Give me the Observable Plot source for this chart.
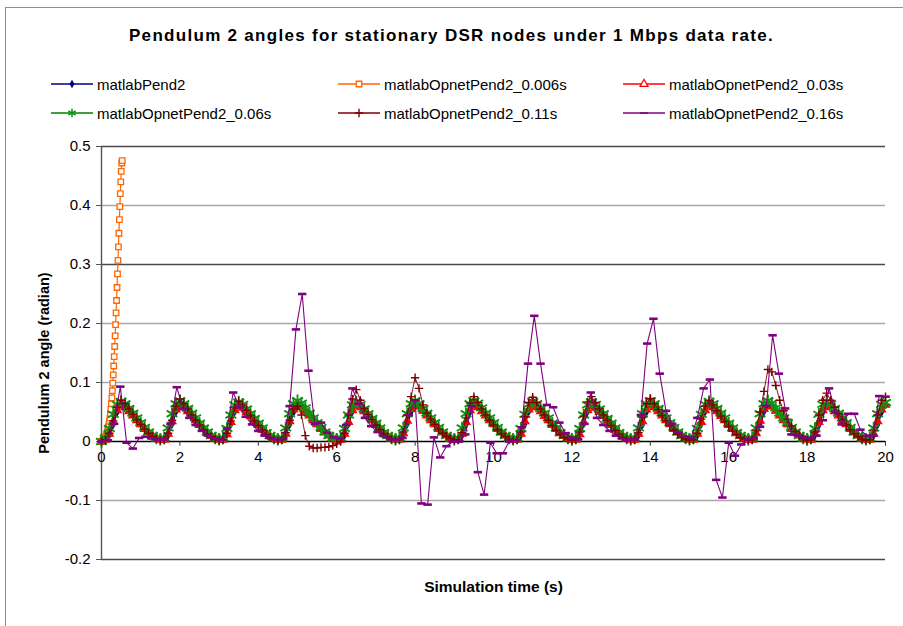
<!DOCTYPE html>
<html>
<head>
<meta charset="utf-8">
<script src="https://cdn.jsdelivr.net/npm/d3@7"></script>
<script src="https://cdn.jsdelivr.net/npm/@observablehq/plot@0.6"></script>
<style>
  html, body { margin: 0; padding: 0; }
  body {
    width: 903px; height: 626px; overflow: hidden; position: relative;
    background: #fff; font-family: "Liberation Sans", Arial, sans-serif; color: #000;
  }
  #frame { position: absolute; left: 5px; top: 7px; width: 1000px; height: 1000px; border: 1.5px solid #8f8f8f; }
  #title { position: absolute; left: 0; width: 903px; top: 26px; line-height: 20px;
           text-align: center; font-weight: bold; font-size: 17px; letter-spacing: 1.3px; }
  .legend-item { position: absolute; height: 16px; display: flex; align-items: center;
                 font-size: 15px; white-space: nowrap; }
  .legend-item span { margin-left: 4px; }
  #chart { position: absolute; left: 0; top: 125px; }
</style>
</head>
<body>
<div id="frame"></div>
<div id="title">Pendulum 2 angles for stationary DSR nodes under 1 Mbps data rate.</div>
<div id="legend"></div>
<div id="chart"></div>
<script>
// Series names as shown in the legend
const seriesNames = [
  "matlabPend2",
  "matlabOpnetPend2_0.006s",
  "matlabOpnetPend2_0.03s",
  "matlabOpnetPend2_0.06s",
  "matlabOpnetPend2_0.11s",
  "matlabOpnetPend2_0.16s"
];

// Pendulum 2 angle (radian), sampled every 0.1 s from 0 to 20 s
const matlabPend2 = [
  0,
  0.002,0.010,0.028,0.049,0.062,0.060,0.054,0.047,0.040,0.032,0.024,0.017,0.011,0.006,0.003,
  0.002,0.010,0.029,0.050,0.062,0.060,0.054,0.047,0.039,0.031,0.024,0.017,0.011,0.006,0.003,
  0.002,0.011,0.029,0.050,0.061,0.059,0.053,0.046,0.039,0.031,0.023,0.016,0.010,0.006,0.003,
  0.002,0.010,0.028,0.049,0.062,0.060,0.054,0.047,0.040,0.032,0.024,0.017,0.011,0.006,0.003,
  0.002,0.010,0.029,0.050,0.062,0.060,0.053,0.046,0.039,0.031,0.024,0.017,0.011,0.006,0.003,
  0.002,0.011,0.029,0.050,0.061,0.059,0.053,0.046,0.039,0.031,0.023,0.016,0.010,0.006,0.003,
  0.002,0.010,0.028,0.049,0.062,0.060,0.054,0.047,0.040,0.032,0.024,0.017,0.011,0.006,0.003,
  0.002,0.010,0.029,0.050,0.062,0.060,0.054,0.047,0.039,0.031,0.024,0.017,0.011,0.006,0.003,
  0.002,0.011,0.029,0.050,0.061,0.059,0.053,0.046,0.039,0.031,0.023,0.016,0.010,0.006,0.003,
  0.002,0.010,0.028,0.049,0.062,0.060,0.054,0.047,0.040,0.032,0.024,0.017,0.011,0.006,0.003,
  0.002,0.010,0.029,0.050,0.062,0.060,0.053,0.046,0.039,0.031,0.024,0.017,0.011,0.006,0.003,
  0.002,0.011,0.029,0.050,0.061,0.059,0.053,0.046,0.039,0.031,0.023,0.016,0.010,0.006,0.003,
  0.002,0.010,0.028,0.049,0.062,0.060,0.054,0.047,0.040,0.032,0.024,0.017,0.011,0.006,0.003,
  0.002,0.010,0.028,0.049,0.062
];

// OPNET co-simulation, 0.006 s delay: sampled every 0.012 s until it leaves the range
const opnetPend2_0006 = [
  0,0,0.001,0.001,0.002,0.003,0.004,0.005,0.006,0.008,0.010,0.012,0.015,0.018,0.021,
  0.025,0.029,0.034,0.040,0.047,0.055,0.064,0.074,0.086,0.099,0.113,0.128,0.144,0.161,0.179,
  0.198,0.218,0.239,0.261,0.284,0.307,0.330,0.353,0.376,0.398,0.420,0.440,0.458,0.472,0.476
];

// OPNET co-simulation, 0.03 s delay: every 0.1 s
const opnetPend2_003 = [
  0,
  0.003,0.013,0.033,0.053,0.061,0.058,0.051,0.044,0.036,0.029,0.021,0.015,0.010,0.005,0.003,
  0.003,0.013,0.034,0.054,0.062,0.058,0.051,0.043,0.036,0.028,0.021,0.014,0.009,0.005,0.003,
  0.003,0.012,0.033,0.053,0.060,0.057,0.050,0.043,0.035,0.028,0.020,0.014,0.009,0.005,0.003,
  0.003,0.013,0.034,0.054,0.062,0.058,0.051,0.044,0.036,0.029,0.021,0.015,0.010,0.005,0.003,
  0.003,0.013,0.033,0.053,0.061,0.058,0.051,0.043,0.036,0.028,0.021,0.014,0.009,0.005,0.003,
  0.003,0.014,0.035,0.055,0.063,0.059,0.052,0.044,0.036,0.029,0.021,0.015,0.010,0.005,0.003,
  0.003,0.013,0.033,0.053,0.061,0.058,0.051,0.044,0.036,0.029,0.021,0.015,0.010,0.005,0.003,
  0.003,0.013,0.034,0.054,0.062,0.058,0.051,0.043,0.036,0.028,0.021,0.014,0.009,0.005,0.003,
  0.003,0.012,0.033,0.053,0.060,0.057,0.050,0.043,0.035,0.028,0.020,0.014,0.009,0.005,0.003,
  0.003,0.013,0.034,0.054,0.062,0.058,0.051,0.044,0.036,0.029,0.021,0.015,0.010,0.005,0.003,
  0.003,0.013,0.033,0.053,0.061,0.058,0.051,0.043,0.036,0.028,0.021,0.014,0.009,0.005,0.003,
  0.003,0.014,0.035,0.055,0.063,0.059,0.052,0.044,0.036,0.029,0.021,0.015,0.010,0.005,0.003,
  0.003,0.013,0.033,0.053,0.061,0.058,0.051,0.044,0.036,0.029,0.021,0.015,0.010,0.005,0.003,
  0.003,0.013,0.034,0.054,0.062
];

// OPNET co-simulation, 0.06 s delay: every 0.1 s
const opnetPend2_006 = [
  0,
  0.006,0.022,0.046,0.063,0.068,0.064,0.056,0.048,0.040,0.032,0.024,0.016,0.010,0.006,0.004,
  0.006,0.023,0.047,0.064,0.069,0.064,0.056,0.048,0.040,0.031,0.023,0.016,0.010,0.006,0.004,
  0.006,0.022,0.045,0.062,0.067,0.063,0.055,0.047,0.039,0.031,0.023,0.015,0.010,0.006,0.004,
  0.006,0.023,0.047,0.064,0.069,0.065,0.057,0.048,0.040,0.032,0.024,0.016,0.010,0.006,0.004,
  0.006,0.022,0.045,0.062,0.067,0.063,0.055,0.047,0.039,0.031,0.023,0.015,0.010,0.006,0.004,
  0.006,0.023,0.047,0.064,0.069,0.064,0.056,0.048,0.040,0.032,0.024,0.016,0.010,0.006,0.004,
  0.006,0.023,0.047,0.064,0.069,0.065,0.057,0.048,0.040,0.032,0.024,0.016,0.010,0.006,0.004,
  0.006,0.022,0.046,0.063,0.068,0.064,0.056,0.048,0.040,0.031,0.023,0.015,0.010,0.006,0.004,
  0.006,0.022,0.045,0.062,0.067,0.063,0.055,0.047,0.039,0.031,0.023,0.015,0.010,0.006,0.004,
  0.006,0.023,0.047,0.064,0.069,0.064,0.056,0.048,0.040,0.032,0.024,0.016,0.010,0.006,0.004,
  0.006,0.022,0.046,0.063,0.068,0.064,0.056,0.048,0.040,0.031,0.023,0.015,0.010,0.006,0.004,
  0.006,0.023,0.047,0.064,0.069,0.065,0.057,0.048,0.040,0.032,0.024,0.016,0.010,0.006,0.004,
  0.006,0.022,0.046,0.063,0.068,0.064,0.056,0.048,0.040,0.032,0.024,0.016,0.010,0.006,0.004,
  0.006,0.023,0.047,0.063,0.066
];

// OPNET co-simulation, 0.11 s delay: every 0.1 s
const opnetPend2_011 = [
  0,
  0.003,0.014,0.035,0.058,0.070,0.064,0.055,0.046,0.037,0.029,0.021,0.014,0.009,0.005,0.002,
  0.003,0.014,0.036,0.060,0.072,0.064,0.055,0.045,0.036,0.028,0.020,0.013,0.008,0.004,0.002,
  0.003,0.014,0.035,0.057,0.068,0.062,0.053,0.044,0.035,0.027,0.019,0.012,0.007,0.004,0.002,
  0.003,0.015,0.036,0.055,0.060,0.045,0.010,-0.008,-0.011,-0.011,-0.010,-0.010,-0.009,-0.007,-0.004,
  0.000,0.014,0.045,0.072,0.088,0.070,0.056,0.046,0.037,0.028,0.020,0.013,0.008,0.004,0.002,
  0.003,0.016,0.045,0.076,0.108,0.090,0.062,0.048,0.038,0.029,0.021,0.014,0.009,0.005,0.002,
  0.003,0.015,0.040,0.065,0.076,0.066,0.055,0.045,0.036,0.028,0.020,0.013,0.008,0.004,0.002,
  0.003,0.016,0.042,0.066,0.075,0.066,0.055,0.045,0.036,0.027,0.019,0.012,0.007,0.004,0.002,
  0.003,0.016,0.043,0.067,0.076,0.066,0.055,0.045,0.036,0.027,0.019,0.012,0.007,0.004,0.002,
  0.003,0.015,0.041,0.064,0.073,0.064,0.054,0.044,0.035,0.027,0.019,0.012,0.007,0.004,0.002,
  0.003,0.014,0.038,0.060,0.069,0.062,0.052,0.043,0.034,0.026,0.018,0.012,0.007,0.004,0.002,
  0.003,0.018,0.050,0.085,0.122,0.118,0.095,0.070,0.052,0.038,0.026,0.017,0.010,0.005,0.002,
  0.003,0.016,0.045,0.070,0.082,0.070,0.058,0.047,0.037,0.028,0.020,0.013,0.008,0.004,0.002,
  0.003,0.018,0.045,0.070,0.076
];

// OPNET co-simulation, 0.16 s delay: every 0.16 s
const opnetPend2_016 = [
  0.000,0.002,0.030,0.093,-0.002,-0.012,0.006,0.008,0.005,0.003,
  0.004,0.030,0.092,0.055,0.040,0.028,0.018,0.010,0.005,0.003,
  0.022,0.083,0.058,0.042,0.029,0.018,0.010,0.005,0.003,0.005,
  0.060,0.190,0.250,0.120,0.030,0.032,0.015,0.007,0.005,0.028,
  0.090,0.064,0.040,0.026,0.016,0.009,0.004,0.003,0.006,0.045,
  0.070,-0.105,-0.107,0.007,-0.027,-0.008,0.000,0.000,0.012,0.060,
  -0.052,-0.090,-0.002,-0.020,-0.020,0.000,0.002,0.024,0.132,0.213,
  0.132,0.062,0.058,0.032,0.014,0.006,0.004,0.030,0.083,0.040,
  0.028,0.018,0.010,0.005,0.003,0.004,0.045,0.166,0.208,0.115,
  0.052,0.030,0.015,0.008,0.006,0.040,0.090,0.105,-0.065,-0.095,
  -0.002,-0.024,-0.005,0.004,0.005,0.025,0.060,0.180,0.115,0.056,
  0.012,0.010,0.007,0.005,0.010,0.036,0.090,0.050,0.029,0.047,
  0.047,0.020,0.010,0.010,0.077,0.076
];

// Sampling interval of each stored series (s)
const sampleSteps = [0.1, 0.012, 0.1, 0.1, 0.1, 0.16];
const seriesValues = [matlabPend2, opnetPend2_0006, opnetPend2_003, opnetPend2_006, opnetPend2_011, opnetPend2_016];

// Axis ticks
const xTickValues = [0, 2, 4, 6, 8, 10, 12, 14, 16, 18, 20];
const yTickValues = [-0.2, -0.1, 0, 0.1, 0.2, 0.3, 0.4, 0.5];
const yTickLabels = ["-0.2", "-0.1", "0", "0.1", "0.2", "0.3", "0.4", "0.5"];

// Horizontal dash marker
const dashSymbol = {
  draw(context, size) {
    const r = Math.sqrt(size / Math.PI);
    context.moveTo(-r, 0);
    context.lineTo(r, 0);
  }
};

// Line colour and marker styling per series
const seriesStyles = [
  {color: "#000080", symbol: "diamond", r: 2.6, fill: "#000080", stroke: "none", sw: 1, lw: 1.6},
  {color: "#ff6600", symbol: "square", r: 3.1, fill: "#fff", stroke: "#ff6600", sw: 1.3, lw: 1.2},
  {color: "#ff0000", symbol: "triangle", r: 3.0, fill: "#ff0000", stroke: "#ff0000", sw: 1.2, lw: 1.2},
  {color: "#008000", symbol: "asterisk", r: 5.9, fill: "none", stroke: "#119011", sw: 1.9, lw: 1.2},
  {color: "#800000", symbol: "plus", r: 2.8, fill: "none", stroke: "#800000", sw: 1.4, lw: 0.9},
  {color: "#800080", symbol: dashSymbol, r: 4.2, fill: "none", stroke: "#800080", sw: 2.6, lw: 1.1}
];

const seriesRows = seriesValues.map((vals, s) =>
  vals.map((v, i) => ({t: +(i * sampleSteps[s]).toFixed(3), v}))
);

const seriesMarks = seriesRows.flatMap((rows, s) => {
  const st = seriesStyles[s];
  return [
    Plot.line(rows, {x: "t", y: "v", stroke: st.color, strokeWidth: st.lw}),
    Plot.dot(rows, {x: "t", y: "v", symbol: st.symbol, r: st.r, fill: st.fill, stroke: st.stroke, strokeWidth: st.sw})
  ];
});

const darkRules = [0.5, 0.3, -0.2];

const chart = Plot.plot({
  width: 903,
  height: 501,
  marginLeft: 101,
  marginRight: 18,
  marginTop: 21,
  marginBottom: 67,
  style: {fontFamily: "'Liberation Sans', Arial, sans-serif", fontSize: "15px", background: "transparent", overflow: "visible"},
  x: {domain: [0, 20]},
  y: {domain: [-0.2, 0.5]},
  marks: [
    Plot.ruleY(yTickValues.filter(v => v !== 0 && !darkRules.includes(v)), {y: d => d, stroke: "#a8a8a8", strokeWidth: 1.6}),
    Plot.ruleY(darkRules, {y: d => d, stroke: "#4a4a4a", strokeWidth: 1.5}),
    Plot.ruleX([0], {x: d => d, stroke: "#555", strokeWidth: 1.4}),
    Plot.axisY({ticks: yTickValues, tickSize: 5, tickPadding: 6, stroke: "#555",
      tickFormat: d => yTickLabels[yTickValues.indexOf(d)], label: null, fontSize: 15}),
    Plot.axisX({ticks: [], label: null}),
    Plot.ruleY([0], {y: d => d, stroke: "#000", strokeWidth: 1.3}),
    Plot.ruleX(xTickValues, {x: d => d, y1: 0, y2: -0.008, stroke: "#333"}),
    Plot.text(xTickValues, {x: d => d, y: 0, dy: 16, text: d => String(d), fontSize: 15}),
    ...seriesMarks,
    Plot.text(["Pendulum 2 angle (radian)"], {frameAnchor: "left", textAnchor: "middle", rotate: -90, dx: -57, dy: 10,
      text: d => d, fontWeight: "bold", fontSize: 14.5}),
    Plot.text(["Simulation time (s)"], {frameAnchor: "bottom", dy: 32, text: d => d,
      fontWeight: "bold", fontSize: 15.5, letterSpacing: "1.5px"})
  ]
});
document.getElementById("chart").appendChild(chart);

// Legend: three columns, two rows
const legendCols = [51, 338, 623];
const legendRows = [84, 113];
const legend = d3.select("#legend");
seriesNames.forEach((name, i) => {
  const st = seriesStyles[i];
  const item = legend.append("div").attr("class", "legend-item")
    .style("left", legendCols[i % 3] + "px")
    .style("top", (legendRows[Math.floor(i / 3)] - 8) + "px");
  const svg = item.append("svg").attr("width", 42).attr("height", 16);
  svg.append("line").attr("x1", 0).attr("x2", 42).attr("y1", 8).attr("y2", 8)
    .attr("stroke", st.color).attr("stroke-width", 1.3);
  const symType = {
    diamond: d3.symbolDiamond, square: d3.symbolSquare, triangle: d3.symbolTriangle,
    asterisk: d3.symbolAsterisk, plus: d3.symbolPlus
  }[st.symbol] || st.symbol;
  const r = Math.min(st.r, 4);
  svg.append("path")
    .attr("transform", "translate(21,8)")
    .attr("d", d3.symbol(symType, Math.PI * r * r)())
    .attr("fill", i === 2 ? "#fff" : st.fill).attr("stroke", st.stroke).attr("stroke-width", Math.min(st.sw, 1.5));
  item.append("span").text(name);
});
</script>
</body>
</html>
